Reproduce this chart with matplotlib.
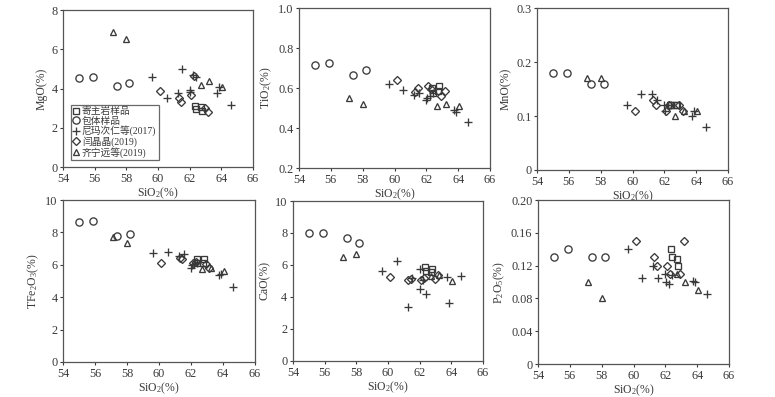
import matplotlib
matplotlib.use('Agg')
import matplotlib.pyplot as plt

plt.rcParams['font.family'] = ['Liberation Serif', 'Noto Sans CJK SC']
plt.rcParams['mathtext.default'] = 'regular'
plt.rcParams['font.size'] = 8.5

#----------------------------------------------------------------------------------------------------
#  data (SiO2 per series, oxide values per panel)
#----------------------------------------------------------------------------------------------------
host_sio2 = [62.35, 62.4, 62.75, 62.8]
incl_sio2 = [55.0, 55.9, 57.4, 58.2]
nima_sio2 = [59.65, 60.55, 61.25, 61.55, 62.0, 62.05, 62.2, 62.4, 63.75, 63.85, 64.6]
yan_sio2 = [60.15, 61.3, 61.45, 62.1, 62.3, 62.95, 63.15]
qi_sio2 = [57.15, 58.0, 62.7, 63.25, 64.05]

host_mgo = [3.12, 2.95, 3.07, 2.86]
incl_mgo = [4.54, 4.57, 4.11, 4.28]
nima_mgo = [4.57, 3.54, 3.75, 5.0, 3.92, 3.8, 4.71, 4.57, 3.75, 4.09, 3.15]
yan_mgo = [3.89, 3.54, 3.29, 3.65, 4.64, 3.0, 2.8]
qi_mgo = [6.88, 6.5, 4.18, 4.37, 4.09]

host_tio2 = [0.60, 0.575, 0.583, 0.61]
incl_tio2 = [0.713, 0.725, 0.663, 0.692]
nima_tio2 = [0.62, 0.59, 0.567, 0.575, 0.54, 0.55, 0.56, 0.575, 0.49, 0.48, 0.43]
yan_tio2 = [0.642, 0.58, 0.60, 0.61, 0.595, 0.562, 0.583]
qi_tio2 = [0.55, 0.52, 0.508, 0.52, 0.508]

host_mno = [0.12, 0.12, 0.12, 0.12]
incl_mno = [0.18, 0.18, 0.16, 0.16]
nima_mno = [0.12, 0.14, 0.14, 0.13, 0.12, 0.11, 0.12, 0.12, 0.10, 0.11, 0.08]
yan_mno = [0.11, 0.13, 0.12, 0.11, 0.12, 0.12, 0.11]
qi_mno = [0.17, 0.17, 0.10, 0.11, 0.11]

host_tfe = [6.37, 6.1, 6.14, 6.37]
incl_tfe = [8.62, 8.73, 7.78, 7.88]
nima_tfe = [6.7, 6.78, 6.57, 6.67, 5.81, 6.0, 6.06, 6.1, 5.34, 5.44, 4.6]
yan_tfe = [6.1, 6.45, 6.37, 6.1, 6.2, 6.06, 5.83]
qi_tfe = [7.74, 7.37, 5.77, 5.83, 5.63]

host_cao = [5.88, 5.6, 5.56, 5.77]
incl_cao = [8.0, 8.0, 7.69, 7.4]
nima_cao = [5.63, 6.25, 3.38, 5.19, 4.52, 5.75, 5.04, 4.21, 5.25, 3.63, 5.33]
yan_cao = [5.25, 5.08, 5.1, 5.04, 5.2, 5.15, 5.4]
qi_cao = [6.5, 6.67, 5.29, 5.4, 5.0]

host_p2o5 = [0.14, 0.13, 0.128, 0.12]
incl_p2o5 = [0.13, 0.14, 0.13, 0.13]
nima_p2o5 = [0.14, 0.105, 0.12, 0.105, 0.11, 0.10, 0.097, 0.108, 0.101, 0.10, 0.086]
yan_p2o5 = [0.15, 0.13, 0.12, 0.12, 0.11, 0.11, 0.15]
qi_p2o5 = [0.10, 0.08, 0.11, 0.10, 0.09]

labels = ['寄主岩样品', '包体样品', '尼玛次仁等(2017)', '闫晶晶(2019)', '齐宁远等(2019)']

#----------------------------------------------------------------------------------------------------
#  panels
#----------------------------------------------------------------------------------------------------
panels = [
    dict(pos=[0.0813, 0.5793, 0.245, 0.3955], ylab='MgO(%)', ylim=(0, 8),
         yticks=[0, 2, 4, 6, 8], fmt='{:g}',
         ys=[host_mgo, incl_mgo, nima_mgo, yan_mgo, qi_mgo]),
    dict(pos=[0.3858, 0.5768, 0.2465, 0.403], ylab='TiO$_2$(%)', ylim=(0.2, 1.0),
         yticks=[0.2, 0.4, 0.6, 0.8, 1.0], fmt='{:.1f}',
         ys=[host_tio2, incl_tio2, nima_tio2, yan_tio2, qi_tio2]),
    dict(pos=[0.6929, 0.5718, 0.2465, 0.408], ylab='MnO(%)', ylim=(0, 0.3),
         yticks=[0, 0.1, 0.2, 0.3], fmt='{:g}',
         ys=[host_mno, incl_mno, nima_mno, yan_mno, qi_mno]),
    dict(pos=[0.0813, 0.0882, 0.2477, 0.408], ylab='TFe$_2$O$_3$(%)', ylim=(0, 10),
         yticks=[0, 2, 4, 6, 8, 10], fmt='{:g}',
         ys=[host_tfe, incl_tfe, nima_tfe, yan_tfe, qi_tfe]),
    dict(pos=[0.378, 0.0907, 0.245, 0.403], ylab='CaO(%)', ylim=(0, 10),
         yticks=[0, 2, 4, 6, 8, 10], fmt='{:g}',
         ys=[host_cao, incl_cao, nima_cao, yan_cao, qi_cao]),
    dict(pos=[0.6942, 0.0831, 0.2465, 0.413], ylab='P$_2$O$_5$(%)', ylim=(0, 0.2),
         yticks=[0, 0.04, 0.08, 0.12, 0.16, 0.20], fmt='{:.2f}',
         ys=[host_p2o5, incl_p2o5, nima_p2o5, yan_p2o5, qi_p2o5]),
]

xs = [host_sio2, incl_sio2, nima_sio2, yan_sio2, qi_sio2]
markers = ['s', 'o', '+', 'D', '^']
sizes = [4.8, 5.2, 6.2, 4.0, 5.0]
col = '#3a3a3a'

fig = plt.figure(figsize=(7.75, 3.97), dpi=100)

for i, p in enumerate(panels):
    ax = fig.add_axes(p['pos'])
    for x, y, m, s, lab in zip(xs, p['ys'], markers, sizes, labels):
        ax.plot(x, y, linestyle='none', marker=m, markersize=s,
                markerfacecolor='none', markeredgecolor=col,
                markeredgewidth=0.95, label=lab)
    ax.set_xlim(54, 66)
    ax.set_ylim(*p['ylim'])
    ax.set_xticks([54, 56, 58, 60, 62, 64, 66])
    ax.set_yticks(p['yticks'])
    ax.set_yticklabels(['0' if v == 0 else p['fmt'].format(v) for v in p['yticks']])
    ax.set_xlabel('SiO$_2$(%)', color=col, labelpad=1)
    ax.set_ylabel(p['ylab'], color=col, labelpad=3)
    ax.tick_params(direction='out', length=2.5, width=0.8, colors=col, labelsize=8.8, pad=1.5)
    for sp in ax.spines.values():
        sp.set_color('#555555')
        sp.set_linewidth(0.9)
    if i == 0:
        leg = ax.legend(loc='lower left', bbox_to_anchor=(0.03, 0.03), fontsize=7,
                        frameon=True, fancybox=False, handlelength=0.6,
                        handletextpad=0.3, borderpad=0.25, labelspacing=0.0,
                        borderaxespad=0.2)
        leg.get_frame().set_edgecolor('#444444')
        leg.get_frame().set_linewidth(0.9)
        for t in leg.get_texts():
            t.set_color(col)

plt.savefig('out.png', dpi=100)
